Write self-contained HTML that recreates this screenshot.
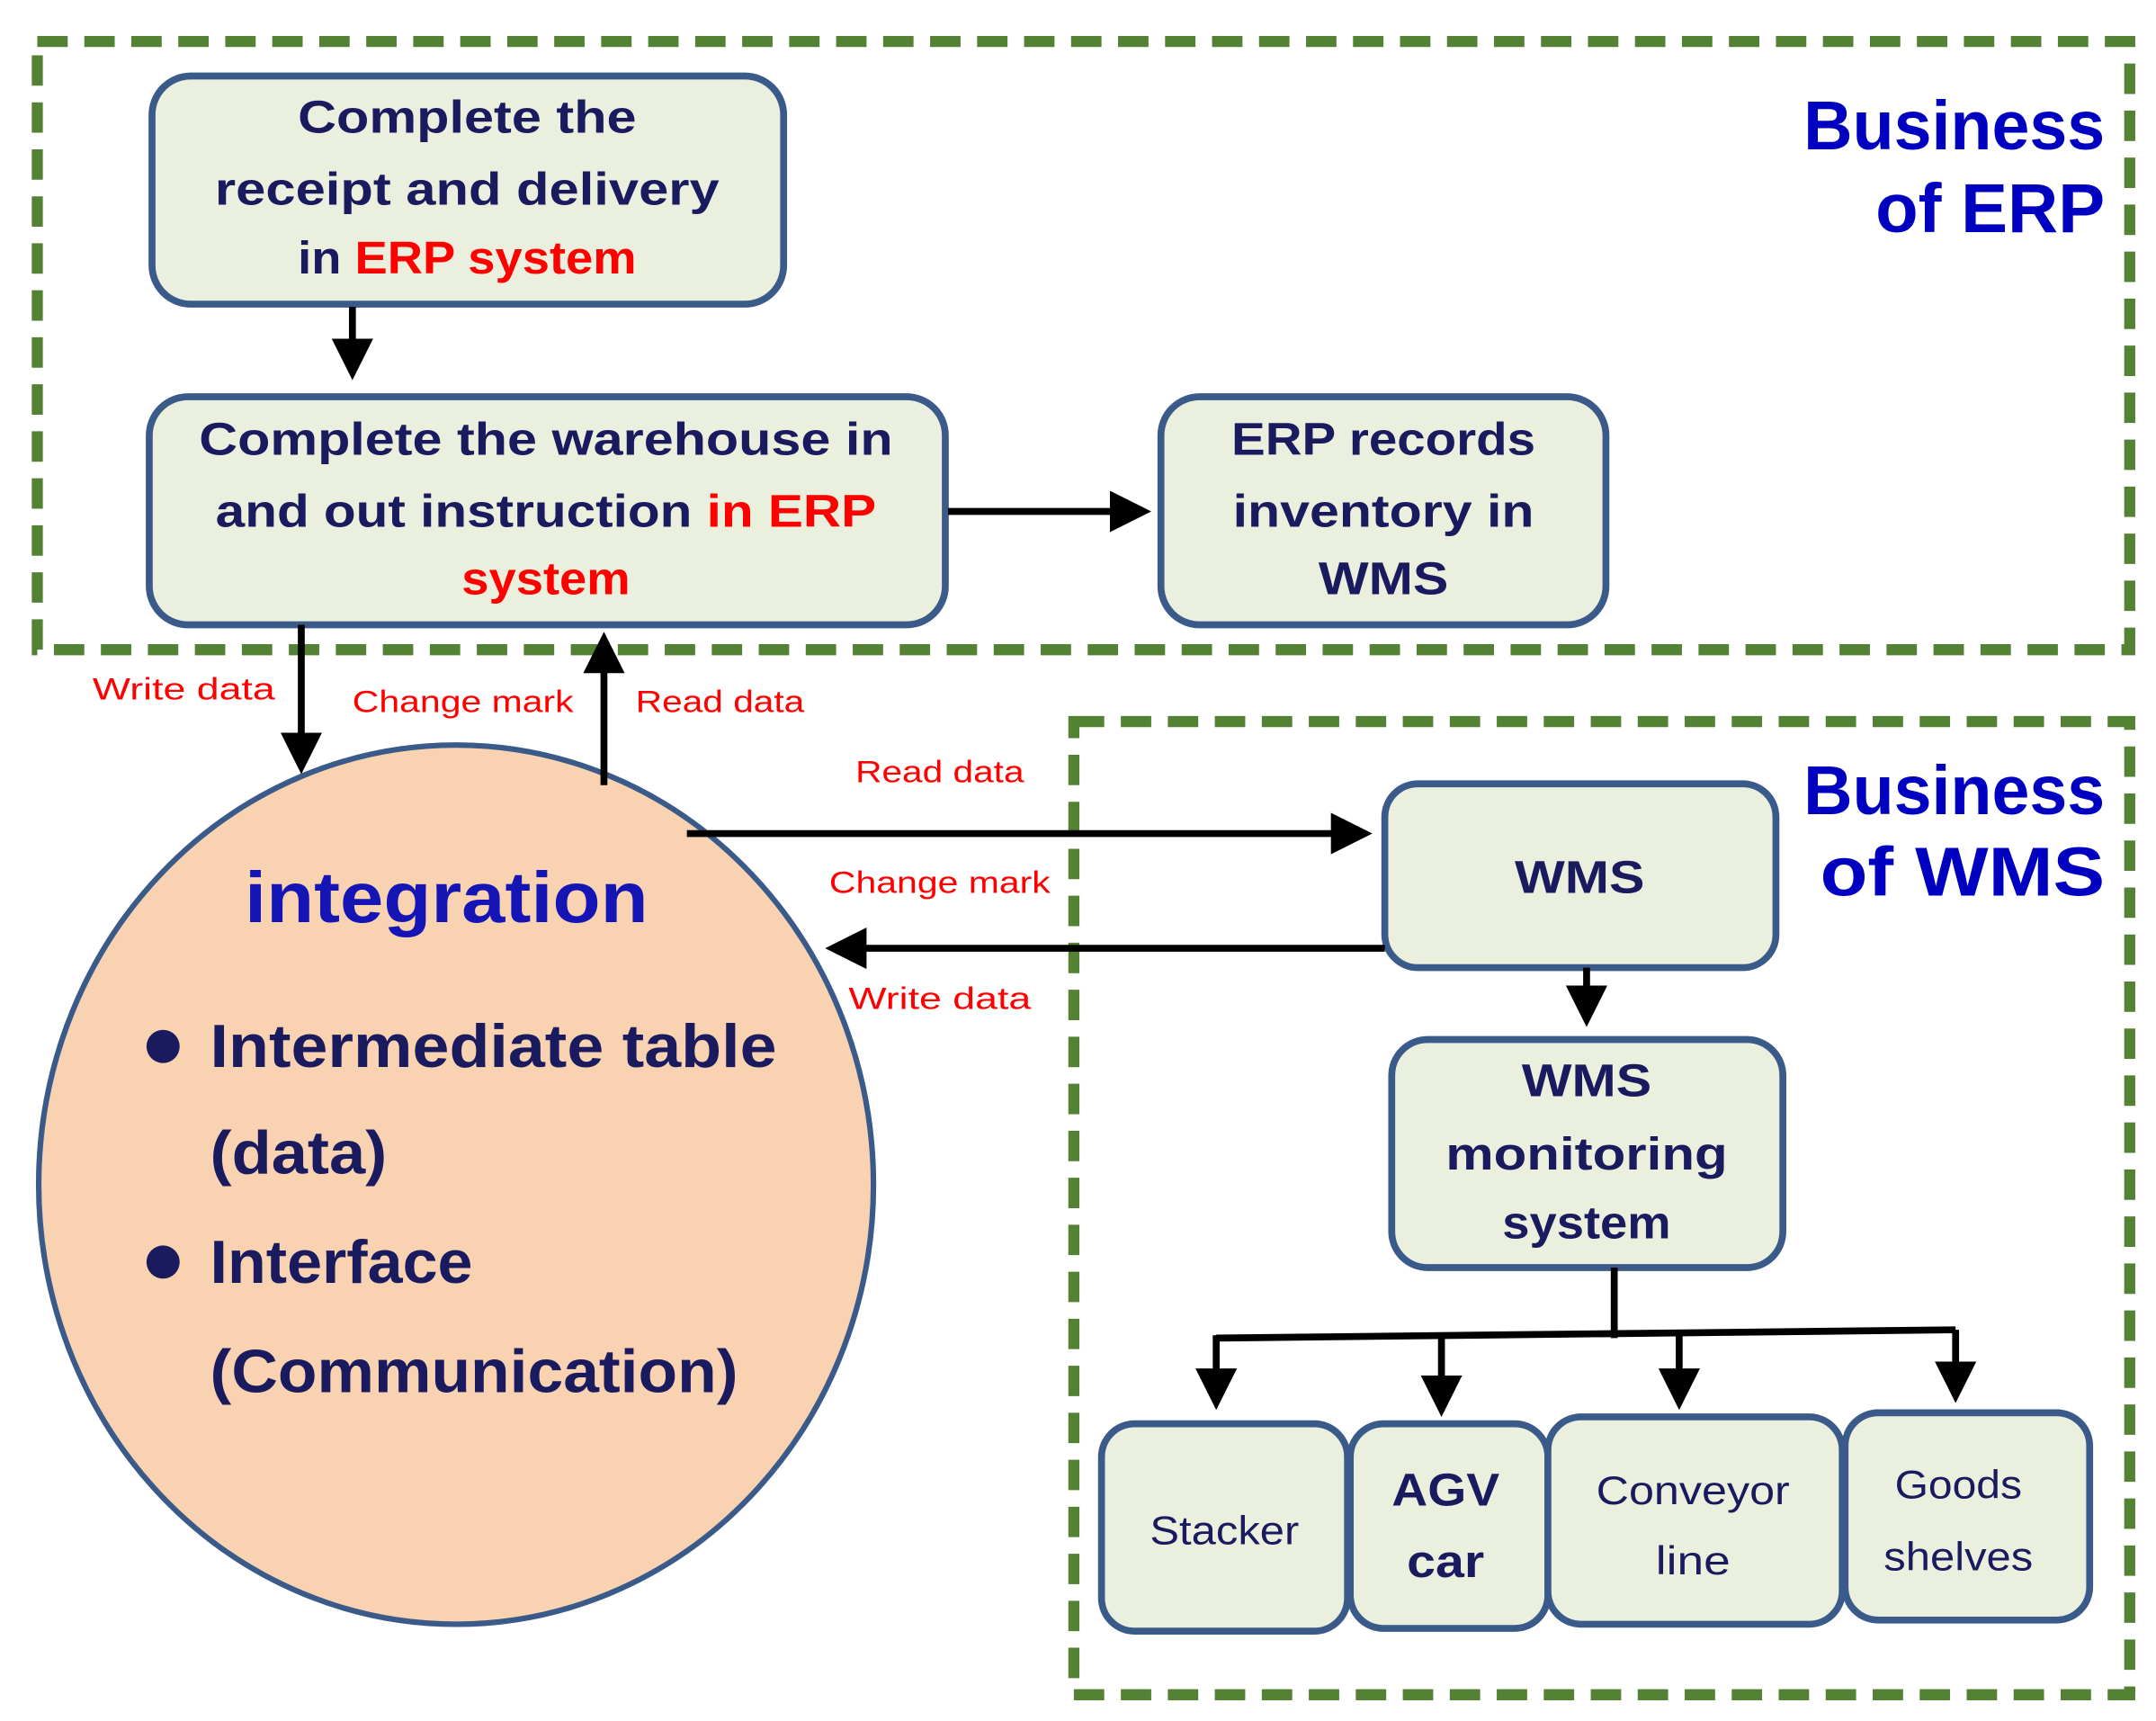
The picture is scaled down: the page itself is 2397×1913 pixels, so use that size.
<!DOCTYPE html>
<html><head><meta charset="utf-8"><style>
html,body{margin:0;padding:0;background:#fff;}
svg{display:block;}
text{font-family:"Liberation Sans",sans-serif;font-weight:bold;}
</style></head><body>
<svg width="2397" height="1913" viewBox="0 0 1560 1245" xmlns="http://www.w3.org/2000/svg">
<defs>
<marker id="ah" markerWidth="6" markerHeight="6" refX="5" refY="3" orient="auto" markerUnits="strokeWidth">
<path d="M0,0 L6,3 L0,6 z" fill="#000"/></marker>
</defs>
<g fill="none" stroke="#548235" stroke-width="8" stroke-dasharray="22,12">
<rect x="27" y="30" width="1514" height="440"/>
<rect x="777" y="522" width="764" height="704"/>
</g>
<g fill="#EBF0DE" stroke="#3A5A8A" stroke-width="5">
<rect x="110" y="55" width="457" height="165" rx="28"/>
<rect x="108" y="287" width="576" height="165" rx="28"/>
<rect x="840" y="287" width="322" height="165" rx="28"/>
<rect x="1002" y="567" width="283" height="133" rx="24"/>
<rect x="1007" y="752" width="283" height="165" rx="26"/>
<rect x="797" y="1030" width="178" height="150" rx="24"/>
<rect x="977" y="1030" width="143" height="148" rx="24"/>
<rect x="1120" y="1025" width="213" height="150" rx="24"/>
<rect x="1335" y="1022" width="177" height="150" rx="24"/>
</g>
<ellipse cx="330" cy="857" rx="302" ry="318" fill="#F9D3B1" stroke="#3A5A8A" stroke-width="4"/>
<g stroke="#000" stroke-width="5" fill="none">
<line x1="255" y1="222" x2="255" y2="270" marker-end="url(#ah)"/>
<line x1="686" y1="370" x2="828" y2="370" marker-end="url(#ah)"/>
<line x1="218" y1="452" x2="218" y2="555" marker-end="url(#ah)"/>
<line x1="437" y1="568" x2="437" y2="462" marker-end="url(#ah)"/>
<line x1="497" y1="603" x2="988" y2="603" marker-end="url(#ah)"/>
<line x1="1002" y1="686" x2="602" y2="686" marker-end="url(#ah)"/>
<line x1="1148" y1="700" x2="1148" y2="738" marker-end="url(#ah)"/>
<line x1="1168" y1="917" x2="1168" y2="968"/>
<polyline points="880,968 1415,962"/>
<line x1="880" y1="966" x2="880" y2="1015" marker-end="url(#ah)"/>
<line x1="1043" y1="966" x2="1043" y2="1020" marker-end="url(#ah)"/>
<line x1="1215" y1="964" x2="1215" y2="1015" marker-end="url(#ah)"/>
<line x1="1415" y1="962" x2="1415" y2="1010" marker-end="url(#ah)"/>
</g>
<g fill="#1A1A5E" font-size="33" text-anchor="middle">
<text x="338" y="96" textLength="245" lengthAdjust="spacingAndGlyphs">Complete the</text>
<text x="338" y="148" textLength="365" lengthAdjust="spacingAndGlyphs">receipt and delivery</text>
<text x="338" y="198" textLength="245" lengthAdjust="spacingAndGlyphs">in <tspan fill="#FF0000">ERP system</tspan></text>
<text x="395" y="329" textLength="502" lengthAdjust="spacingAndGlyphs">Complete the warehouse in</text>
<text x="395" y="381" textLength="478" lengthAdjust="spacingAndGlyphs">and out instruction  <tspan fill="#FF0000">in ERP</tspan></text>
<text x="395" y="430" fill="#FF0000" textLength="122" lengthAdjust="spacingAndGlyphs">system</text>
<text x="1001" y="329" textLength="220" lengthAdjust="spacingAndGlyphs">ERP records</text>
<text x="1001" y="381" textLength="218" lengthAdjust="spacingAndGlyphs">inventory in</text>
<text x="1001" y="430" textLength="94" lengthAdjust="spacingAndGlyphs">WMS</text>
<text x="1143" y="646" textLength="94" lengthAdjust="spacingAndGlyphs">WMS</text>
<text x="1148" y="793" textLength="94" lengthAdjust="spacingAndGlyphs">WMS</text>
<text x="1148" y="846" textLength="204" lengthAdjust="spacingAndGlyphs">monitoring</text>
<text x="1148" y="896" textLength="122" lengthAdjust="spacingAndGlyphs">system</text>
<text x="1046" y="1089" textLength="78" lengthAdjust="spacingAndGlyphs">AGV</text>
<text x="1046" y="1141" textLength="56" lengthAdjust="spacingAndGlyphs">car</text>
</g>
<g fill="#1A1A5E" font-size="29" font-weight="normal" text-anchor="middle">
<text x="886" y="1117" textLength="108" lengthAdjust="spacingAndGlyphs" style="font-weight:normal">Stacker</text>
<text x="1225" y="1088" textLength="140" lengthAdjust="spacingAndGlyphs" style="font-weight:normal">Conveyor</text>
<text x="1225" y="1139" textLength="54" lengthAdjust="spacingAndGlyphs" style="font-weight:normal">line</text>
<text x="1417" y="1084" textLength="92" lengthAdjust="spacingAndGlyphs" style="font-weight:normal">Goods</text>
<text x="1417" y="1136" textLength="108" lengthAdjust="spacingAndGlyphs" style="font-weight:normal">shelves</text>
</g>
<g fill="#0000C0" font-size="50" text-anchor="end">
<text x="1523" y="108" textLength="218" lengthAdjust="spacingAndGlyphs">Business</text>
<text x="1523" y="168" textLength="166" lengthAdjust="spacingAndGlyphs">of ERP</text>
<text x="1523" y="589" textLength="218" lengthAdjust="spacingAndGlyphs">Business</text>
<text x="1523" y="648" textLength="206" lengthAdjust="spacingAndGlyphs">of WMS</text>
</g>
<text x="177" y="667" fill="#1515B5" font-size="52" textLength="292" lengthAdjust="spacingAndGlyphs">integration</text>
<g fill="#1A1A5E" font-size="44">
<circle cx="118" cy="757" r="12"/>
<circle cx="118" cy="913" r="12"/>
<text x="152" y="772" textLength="410" lengthAdjust="spacingAndGlyphs">Intermediate table</text>
<text x="152" y="849" textLength="128" lengthAdjust="spacingAndGlyphs">(data)</text>
<text x="152" y="928" textLength="190" lengthAdjust="spacingAndGlyphs">Interface</text>
<text x="152" y="1007" textLength="382" lengthAdjust="spacingAndGlyphs">(Communication)</text>
</g>
<g fill="#FF0000" font-size="22" font-weight="normal">
<text x="67" y="506" textLength="132" lengthAdjust="spacingAndGlyphs" style="font-weight:normal">Write data</text>
<text x="255" y="515" textLength="160" lengthAdjust="spacingAndGlyphs" style="font-weight:normal">Change mark</text>
<text x="460" y="515" textLength="122" lengthAdjust="spacingAndGlyphs" style="font-weight:normal">Read data</text>
<text x="619" y="566" textLength="122" lengthAdjust="spacingAndGlyphs" style="font-weight:normal">Read data</text>
<text x="600" y="646" textLength="160" lengthAdjust="spacingAndGlyphs" style="font-weight:normal">Change mark</text>
<text x="614" y="730" textLength="132" lengthAdjust="spacingAndGlyphs" style="font-weight:normal">Write data</text>
</g>
</svg>
</body></html>
